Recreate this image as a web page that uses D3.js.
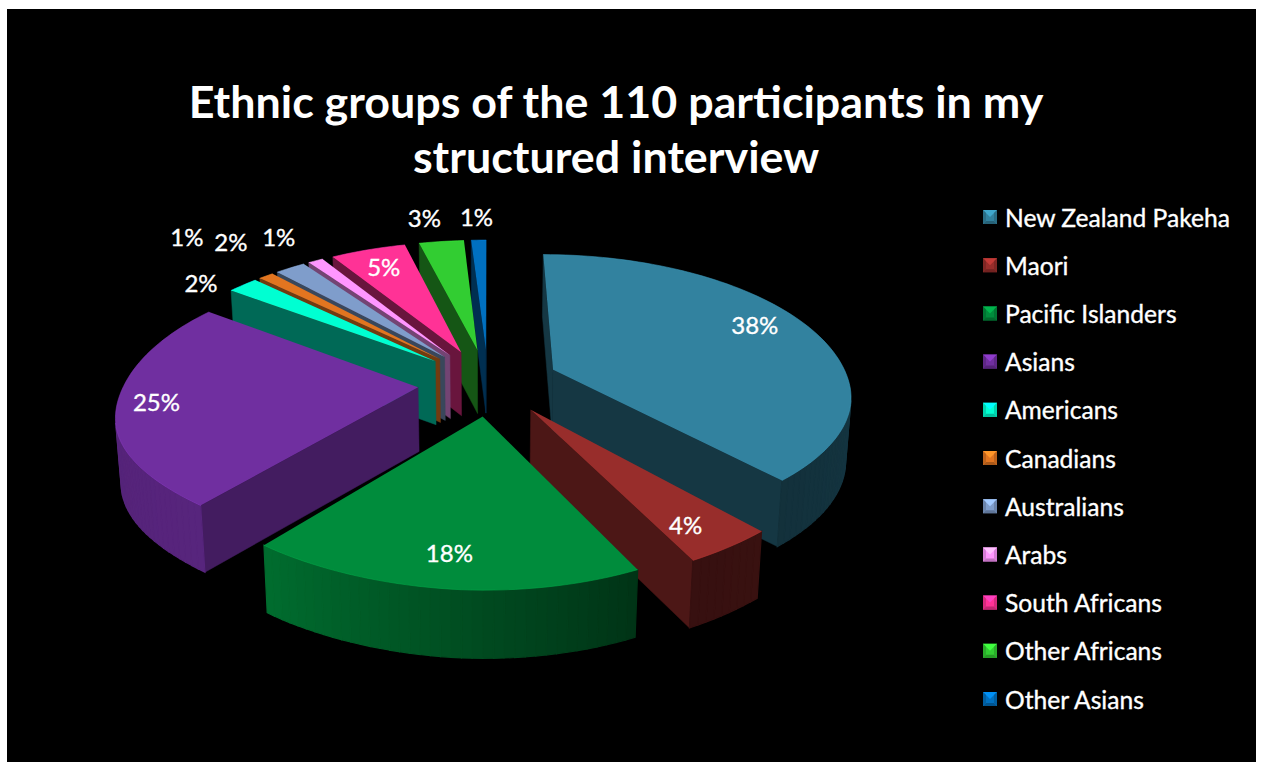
<!DOCTYPE html>
<html>
<head>
<meta charset="utf-8">
<script src="https://cdn.jsdelivr.net/npm/d3@7/dist/d3.min.js"></script>
<style>
  html, body { margin: 0; padding: 0; background: #fff; }
  svg { display: block; }
  text { font-family: Lato, "Open Sans", sans-serif; fill: #fff; }
  .soft { stroke: #fff; stroke-width: 0.35; }
</style>
</head>
<body>
<svg id="chart" width="1262" height="762"></svg>
<script>
// Survey figures
const titleLines = ["Ethnic groups of the 110 participants in my", "structured interview"];
const groups = ["New Zealand Pakeha", "Maori", "Pacific Islanders", "Asians", "Americans", "Canadians",
                "Australians", "Arabs", "South Africans", "Other Africans", "Other Asians"];
const percents = [38, 4, 18, 25, 2, 1, 2, 1, 5, 3, 1];

// Appearance of each slice
const colours = ["#32829f", "#982d2b", "#008c3c", "#702fa0", "#00ffd2", "#e27520",
                 "#7f9dcb", "#ff96ff", "#ff3296", "#32cd32", "#0070c0"];
const sideShade = [0.42, 0.5, 0.42, 0.6, 0.41, 0.5, 0.45, 0.45, 0.41, 0.42, 0.42];
const labelRadius = [0.8, 0.78, 0.76, 0.86, 1.2, 1.2, 1.2, 1.2, 0.8, 1.2, 1.2];
const labelShiftX = [-1, 3, -4, -3, -8, -49, -33, -14, -1, -11, -1];
const labelShiftY = [-7, 11, 11, -4, 11, -25, -11, -8, -1, -6, -5];

// Perspective of the disc: plane coordinates have x to the right, y toward the viewer
const cam = { cx: 488, cy: 382, rxRight: 296, rxLeft: 293, ry: 140, k: 0.18, depth: 64, explode: 0.24 };

// The near half of the disc leans a little to the left and is flattened toward its edge
const nearLift = d3.scaleLinear().domain([-1, -0.6, 0, 0.5, 1]).range([28, 16, 10, 6, 7]);

function project(x, y, z) {
  const w = 1 / (1 - cam.k * y);
  const rx = x < 0 ? cam.rxLeft : cam.rxRight;
  const lean = y > 0 ? y * y * Math.max(0, 13 + 12 * x) : 0;
  const lift = y > 0 ? y * y * nearLift(x) : 0;
  return [
    cam.cx + rx * x * w * (1 - 0.015 * z) - lean,
    cam.cy + cam.ry * y * w + cam.depth * Math.pow(w, 0.25) * z - lift
  ];
}

// Brightness of the rim as it turns round the disc
const rimShade = d3.scaleLinear().domain([0, 90, 150, 216, 270, 360])
  .range([0.42, 0.42, 0.36, 0.78, 0.75, 0.5]).clamp(true);

const svg = d3.select("#chart");
const poly = d3.line();

svg.append("rect").attr("x", 7).attr("y", 9).attr("width", 1249).attr("height", 753).attr("fill", "#000");

// Slices
const arcs = d3.pie().sort(null).value(d => d)(percents).map((a, i) => {
  const mid = (a.startAngle + a.endAngle) / 2;
  const off = [cam.explode * Math.sin(mid), -cam.explode * Math.cos(mid)];
  return { i, a0: a.startAngle, a1: a.endAngle, mid, off };
});

function plane(s, angle, r) {
  return [s.off[0] + r * Math.sin(angle), s.off[1] - r * Math.cos(angle)];
}
function at(s, angle, r, z) {
  const p = plane(s, angle, r);
  return project(p[0], p[1], z);
}
function area(pts) {
  return d3.polygonArea(pts);
}

const layer = svg.append("g");
arcs.slice().sort((a, b) => a.off[1] - b.off[1]).forEach(s => {
  const base = d3.color(colours[s.i]);
  const shade = f => d3.rgb(base.r * f, base.g * f, base.b * f).formatRgb();
  const g = layer.append("g");

  // Flat cut faces, only the ones turned toward the viewer
  [[s.a0, -1], [s.a1, 1]].forEach(([ang, dir]) => {
    const q = [at(s, ang, 0, 0), at(s, ang, 1, 0), at(s, ang, 1, 1), at(s, ang, 0, 1)];
    if (area(q) * dir < 0) {
      g.append("path").attr("d", poly(q) + "Z").attr("fill", shade(sideShade[s.i]))
        .attr("stroke", shade(sideShade[s.i])).attr("stroke-width", 0.5);
    }
  });

  // Rim, in narrow bands so that it can change tone round the curve
  const steps = Math.max(3, Math.ceil((s.a1 - s.a0) / 0.03));
  const angs = d3.range(steps + 1).map(j => s.a0 + (s.a1 - s.a0) * j / steps);
  d3.pairs(angs).forEach(([u, v]) => {
    const q = [at(s, u, 1, 0), at(s, v, 1, 0), at(s, v, 1, 1), at(s, u, 1, 1)];
    if (area(q) > 0) {
      const f = shade(rimShade(((u + v) / 2) * 180 / Math.PI));
      g.append("path").attr("d", poly(q) + "Z").attr("fill", f).attr("stroke", f).attr("stroke-width", 1.2);
    }
  });

  // Top face and its lit edge
  const top = [at(s, s.a0, 0, 0)].concat(angs.map(u => at(s, u, 1, 0)));
  g.append("path").attr("d", poly(top) + "Z").attr("fill", colours[s.i]);
  g.append("path").attr("d", poly(angs.map(u => at(s, u, 1, 0))))
    .attr("fill", "none").attr("stroke", base.brighter(0.5).formatRgb())
    .attr("stroke-width", 1).attr("stroke-opacity", 0.55);
});

// Percentage labels
svg.append("g").selectAll("text").data(arcs).join("text")
  .attr("class", "soft")
  .attr("x", s => at(s, s.mid, labelRadius[s.i], 0)[0] + labelShiftX[s.i])
  .attr("y", s => at(s, s.mid, labelRadius[s.i], 0)[1] + labelShiftY[s.i])
  .attr("text-anchor", "middle").attr("dominant-baseline", "central")
  .attr("font-size", 24)
  .text(s => percents[s.i] + "%");

// Title
svg.append("g").selectAll("text").data(titleLines).join("text")
  .attr("x", 616).attr("y", (d, i) => 118 + i * 55)
  .attr("text-anchor", "middle").attr("font-weight", 700).attr("font-size", 44.8)
  .text(d => d);

// Legend
const legendY = d3.scalePoint().domain(groups).range([217, 699]);
const legend = svg.append("g").selectAll("g").data(groups).join("g")
  .attr("transform", d => `translate(990,${legendY(d)})`);
const swatch = 7;
legend.append("rect").attr("x", -swatch).attr("y", -swatch).attr("width", 2 * swatch).attr("height", 2 * swatch)
  .attr("fill", (d, i) => colours[i]);
legend.append("path")
  .attr("d", poly([[-swatch, -swatch], [swatch, -swatch], [0, 0]]) + "Z")
  .attr("fill", (d, i) => d3.color(colours[i]).brighter(0.7).formatRgb());
legend.append("path")
  .attr("d", poly([[-swatch, swatch], [swatch, swatch], [swatch - 3, swatch - 3], [3 - swatch, swatch - 3]]) + "Z")
  .attr("fill", (d, i) => d3.color(colours[i]).darker(0.8).formatRgb());
legend.append("path")
  .attr("d", poly([[-swatch, -swatch], [-swatch, swatch], [3 - swatch, swatch - 3], [3 - swatch, 3 - swatch]]) + "Z")
  .attr("fill", (d, i) => d3.color(colours[i]).darker(0.5).formatRgb());
legend.append("path")
  .attr("d", poly([[swatch, -swatch], [swatch, swatch], [swatch - 3, swatch - 3], [swatch - 3, 3 - swatch]]) + "Z")
  .attr("fill", (d, i) => d3.color(colours[i]).darker(0.5).formatRgb());
legend.append("text").attr("class", "soft").attr("x", 15).attr("dominant-baseline", "central")
  .attr("font-size", 24.6).text(d => d);
</script>
</body>
</html>
